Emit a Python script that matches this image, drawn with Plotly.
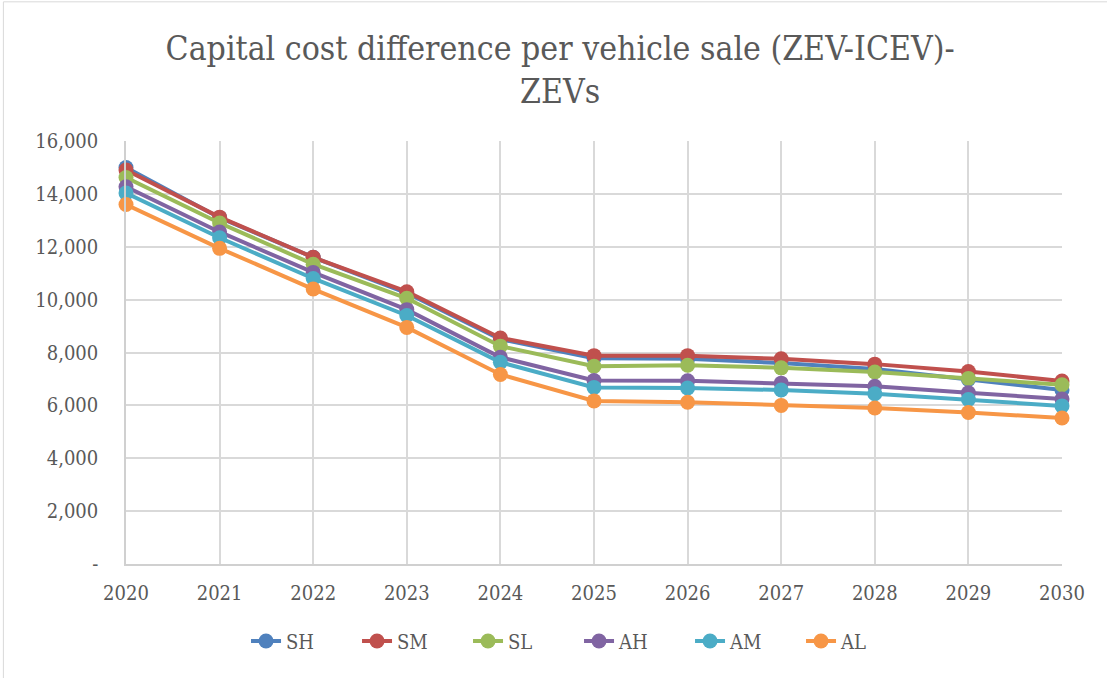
import plotly.graph_objects as go

years = [2020, 2021, 2022, 2023, 2024, 2025, 2026, 2027, 2028, 2029, 2030]
SH = [15000, 13100, 11600, 10250, 8500, 7780, 7760, 7600, 7380, 6980, 6580]
SM = [14900, 13120, 11600, 10300, 8550, 7880, 7880, 7760, 7560, 7280, 6920]
SL = [14620, 12900, 11340, 10050, 8240, 7480, 7520, 7420, 7260, 7020, 6780]
AH = [14270, 12560, 11030, 9620, 7820, 6940, 6930, 6840, 6720, 6480, 6240]
AM = [14030, 12340, 10800, 9400, 7630, 6680, 6660, 6580, 6440, 6220, 5980]
AL = [13600, 11940, 10400, 8950, 7170, 6170, 6120, 6000, 5900, 5730, 5520]

series = [("SH", SH, "#4F81BD"), ("SM", SM, "#C0504D"), ("SL", SL, "#9BBB59"),
          ("AH", AH, "#8064A2"), ("AM", AM, "#4BACC6"), ("AL", AL, "#F79646")]

ytickvals = [0, 2000, 4000, 6000, 8000, 10000, 12000, 14000, 16000]
yticktext = ["-", "2,000", "4,000", "6,000", "8,000", "10,000", "12,000", "14,000", "16,000"]

FONT = "DejaVu Serif Condensed, DejaVu Serif, Liberation Serif, serif"
GRAY = "#595959"

fig = go.Figure()
for name, vals, col in series:
    fig.add_trace(go.Scatter(
        x=years, y=vals, name=name, mode="lines+markers",
        line=dict(color=col, width=4),
        marker=dict(color=col, size=15),
        cliponaxis=False,
    ))

fig.update_layout(
    width=1107, height=678,
    paper_bgcolor="white", plot_bgcolor="white",
    margin=dict(l=126, r=45, t=141, b=114),
    font=dict(family=FONT, color=GRAY, size=20),
    title=dict(text="Capital cost difference per vehicle sale (ZEV-ICEV)-<br>ZEVs",
               x=0.506, xanchor="center", y=0.912, yanchor="middle",
               font=dict(family=FONT, size=33.5, color=GRAY)),
    showlegend=True,
    legend=dict(orientation="h", x=0.484, xanchor="center", y=-0.182, yanchor="middle",
                font=dict(family=FONT, size=20, color=GRAY),
                entrywidth=66, entrywidthmode="pixels", tracegroupgap=0),
    xaxis=dict(range=[2020, 2030], tickvals=years, ticktext=[str(y) for y in years],
               showgrid=True, gridcolor="#d9d9d9", gridwidth=1.5,
               showline=True, linecolor="#d0d0d0", linewidth=1.5,
               zeroline=False, ticks="", ticklen=0, ticklabelstandoff=10,
               tickfont=dict(family=FONT, size=20, color=GRAY)),
    yaxis=dict(range=[0, 16000], tickvals=ytickvals, ticktext=yticktext,
               showgrid=True, gridcolor="#d9d9d9", gridwidth=1.5,
               showline=True, linecolor="#d0d0d0", linewidth=1.5,
               zeroline=False, ticks="", ticklen=0, ticklabelstandoff=22,
               tickfont=dict(family=FONT, size=20, color=GRAY)),
)

fig.add_shape(type="rect", xref="paper", yref="paper", x0=-0.131, x1=1.06, y0=-0.30, y1=1.329,
              line=dict(color="#d9d9d9", width=1), layer="below")

fig.write_html("out.html", config={"displayModeBar": False},
               post_script="document.body.style.margin='0';")
